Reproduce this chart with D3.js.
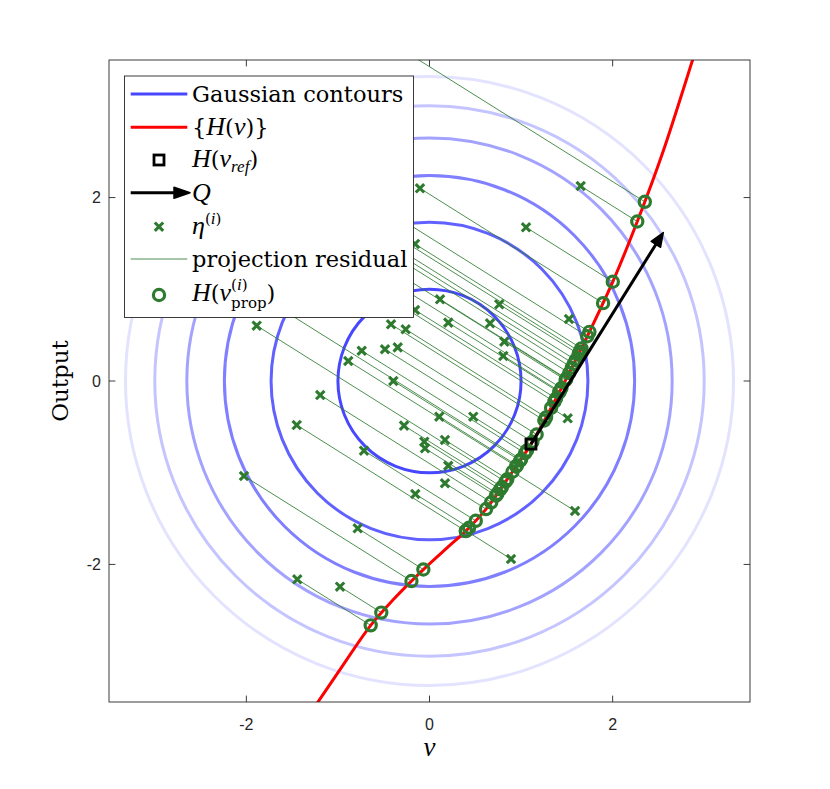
<!DOCTYPE html>
<html>
<head>
<meta charset="utf-8">
<script src="https://cdn.jsdelivr.net/npm/d3@7"></script>
<style>
  body { margin: 0; background: #fff; }
  text { fill: #000; }
</style>
</head>
<body>
<div class="canvas"></div>
<script>
// gaussian contour radii and how strong each ring is drawn
const contourRadii = [1, 1.73, 2.24, 2.65, 3, 3.32];
const contourAlpha = [0.72, 0.62, 0.5, 0.36, 0.23, 0.11];

// the curve {H(v)}
const curveV = [-1.30, -1.0, -0.642, -0.4, -0.068, 0.2, 0.398, 0.617, 0.85, 1.108, 1.45, 1.76, 2.007, 2.269, 2.55, 2.873, 2.95];
const curveH = [-3.62, -3.18, -2.664, -2.388, -2.056, -1.812, -1.634, -1.397, -1.07, -0.688, -0.06, 0.564, 1.095, 1.739, 2.5, 3.5, 3.74];

// H(v_ref) and the direction Q
const refPoint = [1.108, -0.688];
const qVector = [1.445, 2.307];

// samples eta^(i) (a few sit under the legend or above the top edge)
const etaV = [-0.104, 1.651, 1.054, -0.158, 0.115, 0.762, -0.158, 0.205, 0.661, 1.523,
  -0.26, -0.42, -1.887, -0.74, -0.486, -0.347, -0.887, -0.395, 0.817, 0.806,
  -1.193, 0.107, 0.478, 1.509, -0.278, -1.45, -0.057, -0.049, 0.169, -0.715,
  0.205, 0.169, -0.155, -2.026, -0.784, 1.589, 0.89, -1.444, -0.977,
  -0.42, -0.6, -0.6, -0.6, -0.6, -0.6, -0.6, -0.6, -0.6, -1.741];
const etaH = [2.101, 2.126, 1.676, 1.494, 0.891, 0.836, 0.774, 0.636, 0.629, 0.676,
  0.564, 0.618, 0.603, 0.33, 0.346, 0.367, 0.218, 0.0, 0.429, 0.273,
  -0.153, -0.389, -0.389, -0.407, -0.487, -0.48, -0.662, -0.734, -0.643, -0.76,
  -0.924, -1.115, -1.232, -1.036, -1.606, -1.417, -1.941, -2.162, -2.243,
  3.69, 1.943, 1.725, 1.605, 1.55, 1.496, 1.332, 1.2, 1.004, 0.862];

const xTicks = [-2, 0, 2];
const yTicks = [-2, 0, 2];

const green = '#2e7b30';
const axisColor = '#262626';
const serif = 'DejaVu Serif';
const mathFont = 'Liberation Serif';

const svg = d3.select('.canvas')
  .append('svg')
  .attr('width', 830)
  .attr('height', 789);

const x = d3.scaleLinear().domain([-3.5, 3.5]).range([109, 750]);
const y = d3.scaleLinear().domain([-3.5, 3.5]).range([702, 60]);

svg.append('clipPath').attr('id', 'plotclip')
  .append('rect')
  .attr('x', x(-3.5)).attr('y', y(3.5))
  .attr('width', x(3.5) - x(-3.5)).attr('height', y(-3.5) - y(3.5));

const plot = svg.append('g').attr('clip-path', 'url(#plotclip)');

// contours
plot.selectAll('ellipse.contour')
  .data(contourRadii)
  .join('ellipse')
  .attr('class', 'contour')
  .attr('cx', x(0)).attr('cy', y(0))
  .attr('rx', r => x(r) - x(0))
  .attr('ry', r => y(0) - y(r))
  .attr('fill', 'none')
  .attr('stroke', 'blue')
  .attr('stroke-opacity', (d, i) => contourAlpha[i])
  .attr('stroke-width', 3);

// red curve
const curvePts = curveV.map((v, i) => [v, curveH[i]]);
const line = d3.line()
  .x(d => x(d[0]))
  .y(d => y(d[1]))
  .curve(d3.curveCatmullRom);

const curvePath = plot.append('path')
  .datum(curvePts)
  .attr('d', line)
  .attr('fill', 'none')
  .attr('stroke', '#ff0000')
  .attr('stroke-width', 3);

// sample the drawn curve so the projections land on it
const node = curvePath.node();
const total = node.getTotalLength();
const samples = d3.range(0, 801).map(k => {
  const p = node.getPointAtLength(total * k / 800);
  return [x.invert(p.x), y.invert(p.y)];
});

// point on the curve where (p - eta) is orthogonal to Q
function project(e) {
  const f = p => (p[0] - e[0]) * qVector[0] + (p[1] - e[1]) * qVector[1];
  for (let k = 1; k < samples.length; k++) {
    const a = f(samples[k - 1]), b = f(samples[k]);
    if (a <= 0 && b >= 0) {
      const t = b === a ? 0 : -a / (b - a);
      return [
        samples[k - 1][0] + t * (samples[k][0] - samples[k - 1][0]),
        samples[k - 1][1] + t * (samples[k][1] - samples[k - 1][1])
      ];
    }
  }
  return null;
}

const eta = etaV.map((v, i) => [v, etaH[i]]);
const pairs = eta.map(e => ({ eta: e, prop: project(e) })).filter(d => d.prop);

// residual lines
plot.selectAll('line.res')
  .data(pairs)
  .join('line')
  .attr('class', 'res')
  .attr('x1', d => x(d.eta[0])).attr('y1', d => y(d.eta[1]))
  .attr('x2', d => x(d.prop[0])).attr('y2', d => y(d.prop[1]))
  .attr('stroke', green)
  .attr('stroke-width', 0.85);

const crossPath = 'M-4.2,-4.2L4.2,4.2M-4.2,4.2L4.2,-4.2';

plot.selectAll('path.eta')
  .data(pairs)
  .join('path')
  .attr('class', 'eta')
  .attr('transform', d => `translate(${x(d.eta[0])},${y(d.eta[1])})`)
  .attr('d', crossPath)
  .attr('stroke', green)
  .attr('stroke-width', 3.1);

plot.selectAll('circle.prop')
  .data(pairs)
  .join('circle')
  .attr('class', 'prop')
  .attr('cx', d => x(d.prop[0])).attr('cy', d => y(d.prop[1]))
  .attr('r', 5.6)
  .attr('fill', 'none')
  .attr('stroke', green)
  .attr('stroke-width', 3.2);

// H(v_ref) square
plot.append('rect')
  .attr('x', x(refPoint[0]) - 5).attr('y', y(refPoint[1]) - 5)
  .attr('width', 10).attr('height', 10)
  .attr('fill', 'none')
  .attr('stroke', '#000')
  .attr('stroke-width', 2.8);

// arrow Q
function arrow(g, x1, y1, x2, y2, headLen, headHalf) {
  const dx = x2 - x1, dy = y2 - y1, len = Math.hypot(dx, dy);
  const ux = dx / len, uy = dy / len;
  const bx = x2 - ux * headLen, by = y2 - uy * headLen;
  g.append('line')
    .attr('x1', x1).attr('y1', y1).attr('x2', bx + ux * 2).attr('y2', by + uy * 2)
    .attr('stroke', '#000').attr('stroke-width', 3);
  g.append('path')
    .attr('d', `M${x2},${y2}L${bx - uy * headHalf},${by + ux * headHalf}L${bx + uy * headHalf},${by - ux * headHalf}Z`)
    .attr('fill', '#000').attr('stroke', '#000').attr('stroke-width', 1.5).attr('stroke-linejoin', 'round');
}
arrow(plot, x(refPoint[0]), y(refPoint[1]),
  x(refPoint[0] + qVector[0]), y(refPoint[1] + qVector[1]), 14, 5.5);

// axes box and ticks
const axes = svg.append('g');
axes.append('rect')
  .attr('x', x(-3.5)).attr('y', y(3.5))
  .attr('width', x(3.5) - x(-3.5)).attr('height', y(-3.5) - y(3.5))
  .attr('fill', 'none').attr('stroke', axisColor).attr('stroke-width', 0.9);

const tl = 6.4;
xTicks.forEach(t => {
  axes.append('line').attr('x1', x(t)).attr('x2', x(t)).attr('y1', y(-3.5)).attr('y2', y(-3.5) - tl)
    .attr('stroke', axisColor).attr('stroke-width', 0.9);
  axes.append('line').attr('x1', x(t)).attr('x2', x(t)).attr('y1', y(3.5)).attr('y2', y(3.5) + tl)
    .attr('stroke', axisColor).attr('stroke-width', 0.9);
  axes.append('text').attr('x', x(t)).attr('y', 729.5)
    .attr('text-anchor', 'middle')
    .style('font-family', 'Liberation Sans').style('font-size', '16px').style('fill', axisColor)
    .text(t);
});
yTicks.forEach(t => {
  axes.append('line').attr('x1', x(-3.5)).attr('x2', x(-3.5) + tl).attr('y1', y(t)).attr('y2', y(t))
    .attr('stroke', axisColor).attr('stroke-width', 0.9);
  axes.append('line').attr('x1', x(3.5)).attr('x2', x(3.5) - tl).attr('y1', y(t)).attr('y2', y(t))
    .attr('stroke', axisColor).attr('stroke-width', 0.9);
  axes.append('text').attr('x', 101).attr('y', y(t) + 5.8)
    .attr('text-anchor', 'end')
    .style('font-family', 'Liberation Sans').style('font-size', '16px').style('fill', axisColor)
    .text(t);
});

// axis labels
svg.append('text')
  .attr('x', x(0)).attr('y', 756)
  .attr('text-anchor', 'middle')
  .style('font-family', mathFont).style('font-style', 'italic').style('font-size', '27px')
  .text('v');

svg.append('text')
  .attr('transform', `translate(68,${y(0)}) rotate(-90)`)
  .attr('text-anchor', 'middle')
  .style('font-family', serif).style('font-size', '23px')
  .text('Output');

// legend
const legend = svg.append('g');
legend.append('rect')
  .attr('x', 124.5).attr('y', 76)
  .attr('width', 289).attr('height', 241.5)
  .attr('fill', '#fff').attr('stroke', axisColor).attr('stroke-width', 0.9);

const rowY = [94, 127.3, 160, 192.7, 226.7, 259, 295];
const sx1 = 130.7, sx2 = 187.3, sxm = 159, tx = 192;
const fs = 22.5, mfs = 26, small = 15, msmall = 17;

// rich text: segments {t, it, dy, fs}; italic parts use the math font
function richText(yy, segs) {
  const t = legend.append('text')
    .attr('x', tx).attr('y', yy)
    .style('font-family', serif).style('font-size', fs + 'px');
  segs.forEach(s => {
    const sp = t.append('tspan').text(s.t);
    if (s.it) {
      sp.style('font-style', 'italic').style('font-family', mathFont)
        .style('font-size', (s.fs ? msmall : mfs) + 'px');
    } else if (s.fs) {
      sp.style('font-size', s.fs + 'px');
    }
    if (s.dy) sp.attr('dy', s.dy);
  });
  return t;
}

legend.append('line').attr('x1', sx1).attr('x2', sx2).attr('y1', rowY[0]).attr('y2', rowY[0])
  .attr('stroke', 'blue').attr('stroke-opacity', contourAlpha[0]).attr('stroke-width', 3);
richText(rowY[0] + 7.8, [{ t: 'Gaussian contours' }]);

legend.append('line').attr('x1', sx1).attr('x2', sx2).attr('y1', rowY[1]).attr('y2', rowY[1])
  .attr('stroke', '#ff0000').attr('stroke-width', 3);
richText(rowY[1] + 7.8, [{ t: '{' }, { t: 'H', it: 1 }, { t: '(' }, { t: 'v', it: 1 }, { t: ')}' }]);

legend.append('rect').attr('x', sxm - 5).attr('y', rowY[2] - 5).attr('width', 10).attr('height', 10)
  .attr('fill', 'none').attr('stroke', '#000').attr('stroke-width', 2.8);
richText(rowY[2] + 6.5, [{ t: 'H', it: 1 }, { t: '(' }, { t: 'v', it: 1 },
  { t: 'ref', it: 1, fs: small, dy: 5 }, { t: ')', dy: -5 }]);

arrow(legend, sx1, rowY[3], 190, rowY[3], 16, 5.5);
richText(rowY[3] + 7.8, [{ t: 'Q', it: 1 }]);

legend.append('path').attr('transform', `translate(${sxm},${rowY[4]})`).attr('d', crossPath)
  .attr('stroke', green).attr('stroke-width', 3.1);
richText(rowY[4] + 7, [{ t: 'η', it: 1 }, { t: '(', fs: small, dy: -10 }, { t: 'i', it: 1, fs: small }, { t: ')', fs: small }]);

legend.append('line').attr('x1', sx1).attr('x2', sx2).attr('y1', rowY[5]).attr('y2', rowY[5])
  .attr('stroke', green).attr('stroke-width', 0.85);
richText(rowY[5] + 7.8, [{ t: 'projection residual' }]);

legend.append('circle').attr('cx', sxm).attr('cy', rowY[6]).attr('r', 5.6)
  .attr('fill', 'none').attr('stroke', green).attr('stroke-width', 3.2);
const last = richText(rowY[6] + 6, [{ t: 'H', it: 1 }, { t: '(' }, { t: 'v', it: 1 },
  { t: 'prop', fs: small, dy: 7 }, { t: ')', dy: -7 }]);
const px = last.node().getStartPositionOfChar(3).x;
const sup = legend.append('text')
  .attr('x', px).attr('y', rowY[6] - 5)
  .style('font-family', serif).style('font-size', small + 'px');
sup.append('tspan').text('(');
sup.append('tspan').style('font-style', 'italic').style('font-family', mathFont).style('font-size', msmall + 'px').text('i');
sup.append('tspan').text(')');
</script>
</body>
</html>
